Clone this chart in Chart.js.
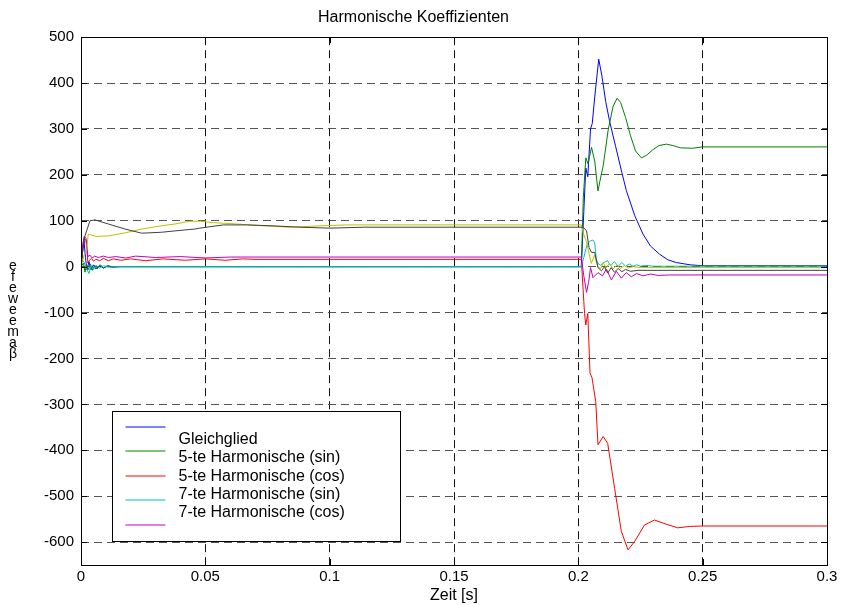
<!DOCTYPE html>
<html>
<head>
<meta charset="utf-8">
<script src="https://cdn.jsdelivr.net/npm/chart.js@4/dist/chart.umd.min.js"></script>
<style>
html, body { margin: 0; padding: 0; background: #ffffff; }
#wrap { width: 841px; height: 605px; }
</style>
</head>
<body>
<div id="wrap"><canvas id="c" width="841" height="605"></canvas></div>
<script>
// ---------- texts ----------
const titleText = 'Harmonische Koeffizienten';
const xAxisTitle = 'Zeit [s]';
const yAxisChars = ['e', 'f', 'e', 'w', 'e', 'e', 'm', 'a', 'β'];
const legendLabels = ['Gleichglied', '5-te Harmonische (sin)', '5-te Harmonische (cos)', '7-te Harmonische (sin)', '7-te Harmonische (cos)'];

// ---------- ticks ----------
const xTickValues = [0, 0.05, 0.1, 0.15, 0.2, 0.25, 0.3];
const xTickLabels = ['0', '0.05', '0.1', '0.15', '0.2', '0.25', '0.3'];
const yTickValues = [-600, -500, -400, -300, -200, -100, 0, 100, 200, 300, 400, 500];
const yTickLabels = ['-600', '-500', '-400', '-300', '-200', '-100', '0', '100', '200', '300', '400', '500'];

// ---------- series (time [s], value) ----------
const gleichT = [0,0.0006,0.0012,0.0018,0.0024,0.0032,0.0040,0.0050,0.0060,0.0075,0.0090,0.0110,0.0130,0.0160,0.2012,0.2022,0.2030,0.2038,0.2049,0.2056,0.2066,0.2082,0.2095,0.2110,0.2126,0.2150,0.2175,0.2193,0.2227,0.2260,0.2290,0.2327,0.2360,0.2394,0.2450,0.2500,0.3000];
const gleichV = [0,30,56,20,-7,11,-7,4,-5,3,-3,2,-1,0,0,120,215,196,300,312,370,452,415,360,316,262,205,166,111,71,45,27,15,9,4,2,2];

const sin5T = [0,0.0010,0.0016,0.0022,0.0030,0.0038,0.0046,0.0055,0.0065,0.0078,0.0090,0.0105,0.0120,0.0140,0.2012,0.2020,0.2030,0.2039,0.2053,0.2066,0.2079,0.2090,0.2100,0.2120,0.2140,0.2156,0.2170,0.2190,0.2210,0.2230,0.2254,0.2275,0.2300,0.2325,0.2354,0.2380,0.2410,0.2459,0.2500,0.3000];
const sin5V = [0,8,-12,4,-6,6,-8,3,-5,4,-3,2,-1,0,0,150,237,224,260,230,165,195,220,298,350,367,358,325,285,252,237,243,255,264,267,264,259,258,261,261];

const cos5T = [0,0.0006,0.0012,0.0020,0.0028,0.0034,0.0042,0.0050,0.0060,0.0075,0.0090,0.0110,0.0130,0.0160,0.0200,0.0260,0.0330,0.0420,0.0500,0.0580,0.0650,0.0700,0.2012,0.2022,0.2025,0.2030,0.2038,0.2047,0.2055,0.2070,0.2079,0.2100,0.2118,0.2146,0.2173,0.2200,0.2226,0.2266,0.2306,0.2353,0.2400,0.2447,0.2500,0.3000];
const cos5V = [0,40,62,58,8,14,18,12,16,13,18,13,17,14,17,13,17,14,17,14,17,16,16,-76,-102,-127,-102,-232,-242,-294,-388,-370,-385,-483,-577,-617,-599,-563,-552,-561,-569,-566,-565,-565];

const sin7T = [0,0.0005,0.0012,0.0022,0.0032,0.0040,0.0050,0.0060,0.0075,0.0090,0.0110,0.0140,0.2012,0.2022,0.2035,0.2045,0.2058,0.2066,0.2072,0.2079,0.2090,0.2102,0.2118,0.2130,0.2145,0.2160,0.2175,0.2190,0.2205,0.2220,0.2235,0.2250,0.2270,0.2300,0.2500,0.3000];
const sin7V = [0,15,10,-4,-15,2,-6,3,-3,2,-1,0,0,20,48,55,58,52,17,7,3,9,13,2,11,1,9,1,6,1,4,1,3,1,1,1];

const cos7T = [0,0.0006,0.0013,0.0020,0.0028,0.0036,0.0045,0.0055,0.0070,0.0090,0.0110,0.0140,0.0180,0.0220,0.0300,0.0400,0.0500,0.0600,0.2012,0.2022,0.2033,0.2041,0.2049,0.2059,0.2079,0.2097,0.2113,0.2133,0.2153,0.2173,0.2193,0.2213,0.2234,0.2260,0.2290,0.2320,0.2367,0.3000];
const cos7V = [0,45,66,62,22,25,19,23,20,23,20,22,19,23,20,22,19,21,21,-20,-56,-35,-2,-24,-13,-20,-5,-29,-10,-25,-13,-22,-15,-20,-16,-19,-18,-18];

const yellowT = [0,0.0012,0.0022,0.0029,0.0060,0.0110,0.0180,0.0244,0.0310,0.0378,0.0438,0.0480,0.0532,0.0626,0.0733,0.0840,0.0960,0.1068,0.2012,0.2022,0.2033,0.2052,0.2065,0.2078,0.2090,0.2100,0.2112,0.2125,0.2140,0.2155,0.2170,0.2185,0.2200,0.2220,0.2250,0.3000];
const yellowV = [0,25,32,71,66,67,74,82,88,93,99,99,96,93,89,86,89,91,91,70,54,7,25,0,-4,9,-3,7,-5,4,-4,2,-3,0,-2,-2];

const grayT = [0,0.0008,0.0016,0.0036,0.0056,0.0110,0.0177,0.0244,0.0324,0.0378,0.0458,0.0478,0.0572,0.0666,0.0773,0.0880,0.1001,0.1141,0.2020,0.2033,0.2043,0.2053,0.2066,0.2079,0.2093,0.2105,0.2118,0.2132,0.2145,0.2160,0.2175,0.2190,0.2210,0.2240,0.3000];
const grayV = [0,40,67,100,102,93,82,73,75,78,82,84,91,91,89,86,84,86,86,78,42,31,31,-2,-9,0,-14,-2,-12,-4,-11,-6,-10,-8,-8];

// ---------- build ----------
const FONT = '"Liberation Sans", Arial, Helvetica, sans-serif';
const seriesColors = ['#0000ff', '#008000', '#ff0000', '#00bfbf', '#bf00bf', '#bfbf00', '#404040'];
const seriesList = [
  { label: legendLabels[0], t: gleichT, v: gleichV },
  { label: legendLabels[1], t: sin5T,   v: sin5V },
  { label: legendLabels[2], t: cos5T,   v: cos5V },
  { label: legendLabels[3], t: sin7T,   v: sin7V },
  { label: legendLabels[4], t: cos7T,   v: cos7V },
  { label: '',              t: yellowT, v: yellowV },
  { label: '',              t: grayT,   v: grayV }
];
const n = seriesList.length;
const datasets = seriesList.map((s, i) => ({
  label: s.label,
  data: s.t.map((t, k) => ({ x: t, y: s.v[k] })),
  borderColor: seriesColors[i],
  backgroundColor: seriesColors[i],
  borderWidth: 1,
  pointRadius: 0,
  tension: 0,
  fill: false,
  order: n - 1 - i
}));

const decor = {
  id: 'decor',
  afterDraw(chart) {
    const ctx = chart.ctx;
    const a = chart.chartArea;
    const xs = chart.scales.x, ys = chart.scales.y;
    ctx.save();
    // frame
    ctx.strokeStyle = '#000';
    ctx.lineWidth = 1;
    ctx.setLineDash([]);
    ctx.strokeRect(Math.round(a.left) + 0.5, Math.round(a.top) + 0.5, Math.round(a.right - a.left), Math.round(a.bottom - a.top));
    // inward ticks
    const tl = 6;
    ctx.beginPath();
    xTickValues.forEach(v => {
      const px = Math.round(xs.getPixelForValue(v)) + 0.5;
      ctx.moveTo(px, a.bottom); ctx.lineTo(px, a.bottom - tl);
      ctx.moveTo(px, a.top); ctx.lineTo(px, a.top + tl);
    });
    yTickValues.forEach(v => {
      const py = Math.round(ys.getPixelForValue(v)) + 0.5;
      ctx.moveTo(a.left, py); ctx.lineTo(a.left + tl, py);
      ctx.moveTo(a.right, py); ctx.lineTo(a.right - tl, py);
    });
    ctx.stroke();

    // y axis label (stacked characters)
    ctx.fillStyle = '#000';
    ctx.font = '14px ' + FONT;
    ctx.textAlign = 'center';
    ctx.textBaseline = 'middle';
    yAxisChars.forEach((c, i) => {
      ctx.fillText(c, 13, 266 + i * 11);
    });

    // legend box
    const bx = Math.round(a.left + 31) + 0.5;
    const bw = 288, bh = 130;
    const by = Math.round(a.bottom - 24 - bh) + 0.5;
    ctx.fillStyle = '#fff';
    ctx.fillRect(bx, by, bw, bh);
    ctx.strokeStyle = '#000';
    ctx.lineWidth = 1;
    ctx.strokeRect(bx, by, bw, bh);
    ctx.font = '16px ' + FONT;
    ctx.textAlign = 'left';
    ctx.textBaseline = 'middle';
    legendLabels.forEach((lab, i) => {
      const ly = Math.round(by + 15 + i * 24.6);
      ctx.strokeStyle = seriesColors[i];
      ctx.lineWidth = 1.2;
      ctx.beginPath();
      ctx.moveTo(bx + 13, ly); ctx.lineTo(bx + 53, ly);
      ctx.stroke();
      ctx.fillStyle = '#000';
      ctx.fillText(lab, bx + 66, by + 28 + i * 18.3);
    });
    ctx.restore();
  }
};

new Chart(document.getElementById('c'), {
  type: 'line',
  data: { datasets },
  options: {
    responsive: false,
    animation: false,
    devicePixelRatio: 1,
    layout: { padding: { left: 0, right: 14, top: 0, bottom: 0 } },
    plugins: {
      legend: { display: false },
      tooltip: { enabled: false },
      title: {
        display: true, text: titleText, color: '#000',
        font: { family: FONT, size: 16, weight: 'normal' },
        padding: { top: 8, bottom: 10 }
      }
    },
    scales: {
      x: {
        type: 'linear', min: 0, max: 0.3,
        afterBuildTicks: s => { s.ticks = xTickValues.map(v => ({ value: v })); },
        afterFit: s => { s.height = 40; },
        ticks: {
          callback: (v, i) => xTickLabels[i],
          color: '#000', font: { family: FONT, size: 15 },
          padding: 3, maxRotation: 0, autoSkip: false
        },
        grid: { color: '#111', lineWidth: 1, drawTicks: false },
        border: { display: false, dash: [8, 5] },
        title: {
          display: true, text: xAxisTitle, color: '#000',
          font: { family: FONT, size: 16 }, padding: { top: 0, bottom: 0 }
        }
      },
      y: {
        type: 'linear', min: -650, max: 500,
        afterBuildTicks: s => { s.ticks = yTickValues.map(v => ({ value: v })); },
        afterFit: s => { s.width = 81; },
        ticks: {
          callback: (v, i) => yTickLabels[i],
          color: '#000', font: { family: FONT, size: 15 },
          padding: 7, autoSkip: false
        },
        grid: { color: '#555', lineWidth: 1, drawTicks: false },
        border: { display: false, dash: [8, 5] },
        title: { display: false }
      }
    }
  },
  plugins: [decor]
});
</script>
</body>
</html>
